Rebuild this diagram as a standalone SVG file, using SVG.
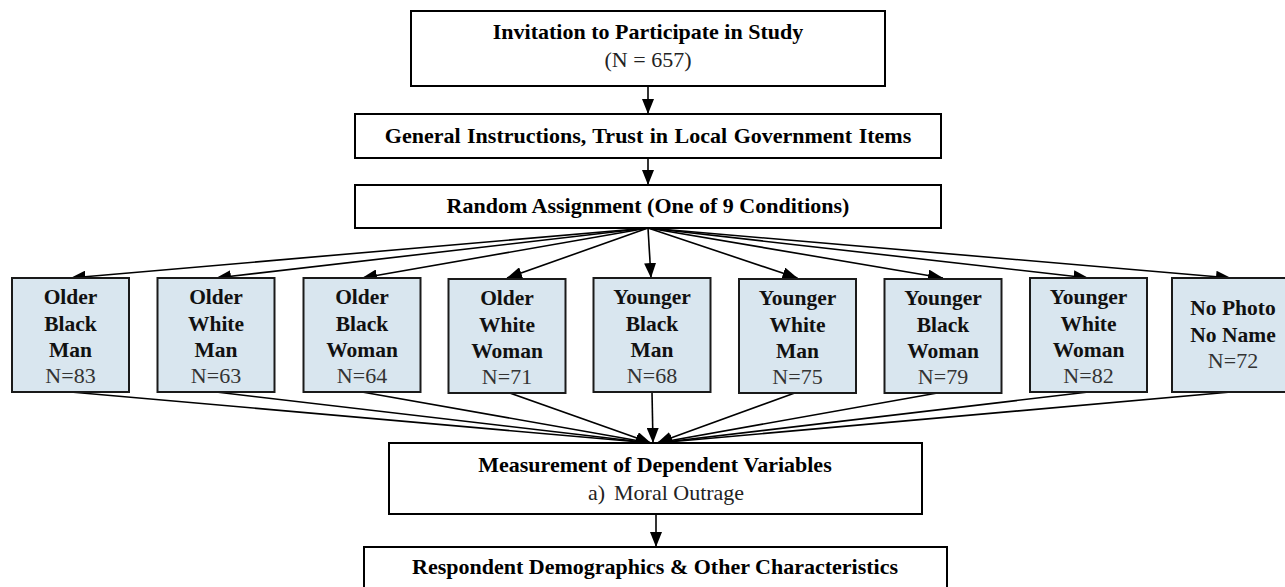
<svg xmlns="http://www.w3.org/2000/svg" width="1285" height="587" viewBox="0 0 1285 587">
<defs>
<marker id="ah" markerUnits="userSpaceOnUse" markerWidth="15" markerHeight="12" viewBox="0 0 15 12" refX="15" refY="6" orient="auto">
<path d="M0,0 L15,6 L0,12 z" fill="#000"/>
</marker>
<style>
.box{fill:#fff;stroke:#000;stroke-width:2}
.cond{fill:#d9e6ef;stroke:#1a1a1a;stroke-width:2}
.b{font-family:"Liberation Serif","Times New Roman",serif;font-weight:bold;font-size:22px;fill:#000;text-anchor:middle}
.r{font-family:"Liberation Serif","Times New Roman",serif;font-size:22px;fill:#222;text-anchor:middle}
.nb{font-family:"Liberation Serif","Times New Roman",serif;font-weight:bold;font-size:21.5px;fill:#111;text-anchor:middle}
.nr{font-family:"Liberation Serif","Times New Roman",serif;font-size:22px;fill:#333;text-anchor:middle}
.c{stroke:#000;stroke-width:1.6;fill:none;marker-end:url(#ah)}
</style>
</defs>
<rect width="1285" height="587" fill="#fff"/>

<g id="connectors">
<line class="c" x1="648" y1="86" x2="648" y2="114"/>
<line class="c" x1="648" y1="158" x2="648" y2="185"/>
<line class="c" x1="648" y1="228" x2="70.5" y2="278"/>
<line class="c" x1="648" y1="228" x2="216" y2="278"/>
<line class="c" x1="648" y1="228" x2="362" y2="278"/>
<line class="c" x1="648" y1="228" x2="507" y2="278"/>
<line class="c" x1="648" y1="228" x2="651" y2="278"/>
<line class="c" x1="648" y1="228" x2="797.5" y2="278"/>
<line class="c" x1="648" y1="228" x2="943" y2="278"/>
<line class="c" x1="648" y1="228" x2="1088.5" y2="278"/>
<line class="c" x1="648" y1="228" x2="1231" y2="278"/>
<line class="c" x1="70.5" y1="392" x2="651" y2="443"/>
<line class="c" x1="216" y1="392" x2="651" y2="443"/>
<line class="c" x1="362" y1="392" x2="651" y2="443"/>
<line class="c" x1="507" y1="392" x2="651" y2="443"/>
<line class="c" x1="652" y1="392" x2="653" y2="443"/>
<line class="c" x1="797.5" y1="392" x2="657" y2="443"/>
<line class="c" x1="943" y1="392" x2="657" y2="443"/>
<line class="c" x1="1088.5" y1="392" x2="657" y2="443"/>
<line class="c" x1="1231" y1="392" x2="657" y2="443"/>
<line class="c" x1="656" y1="514" x2="656" y2="547"/>
</g>

<g id="invitation">
<rect class="box" x="411" y="11" width="474" height="75"/>
<text class="b" x="648" y="39">Invitation to Participate in Study</text>
<text class="r" x="648" y="67">(N = 657)</text>
</g>

<g id="instructions">
<rect class="box" x="355" y="114" width="586" height="44"/>
<text class="b" x="648" y="143" word-spacing="1">General Instructions, Trust in Local Government Items</text>
</g>

<g id="random">
<rect class="box" x="355" y="185" width="586" height="43"/>
<text class="b" x="648" y="213">Random Assignment (One of 9 Conditions)</text>
</g>

<g id="c1">
<rect class="cond" x="12" y="278" width="117" height="114"/>
<text class="nb" x="70.5" y="304">Older</text>
<text class="nb" x="70.5" y="331">Black</text>
<text class="nb" x="70.5" y="357">Man</text>
<text class="nr" x="70.5" y="383">N=83</text>
</g>

<g id="c2">
<rect class="cond" x="157.5" y="278" width="117" height="114"/>
<text class="nb" x="216" y="304">Older</text>
<text class="nb" x="216" y="331">White</text>
<text class="nb" x="216" y="357">Man</text>
<text class="nr" x="216" y="383">N=63</text>
</g>

<g id="c3">
<rect class="cond" x="303.5" y="278" width="117" height="114"/>
<text class="nb" x="362" y="304">Older</text>
<text class="nb" x="362" y="331">Black</text>
<text class="nb" x="362" y="357">Woman</text>
<text class="nr" x="362" y="383">N=64</text>
</g>

<g id="c4">
<rect class="cond" x="448.5" y="279" width="117" height="114"/>
<text class="nb" x="507" y="305">Older</text>
<text class="nb" x="507" y="332">White</text>
<text class="nb" x="507" y="358">Woman</text>
<text class="nr" x="507" y="384">N=71</text>
</g>

<g id="c5">
<rect class="cond" x="593.5" y="278" width="117" height="114"/>
<text class="nb" x="652" y="304">Younger</text>
<text class="nb" x="652" y="331">Black</text>
<text class="nb" x="652" y="357">Man</text>
<text class="nr" x="652" y="383">N=68</text>
</g>

<g id="c6">
<rect class="cond" x="739" y="279" width="117" height="114"/>
<text class="nb" x="797.5" y="305">Younger</text>
<text class="nb" x="797.5" y="332">White</text>
<text class="nb" x="797.5" y="358">Man</text>
<text class="nr" x="797.5" y="384">N=75</text>
</g>

<g id="c7">
<rect class="cond" x="884.5" y="279" width="117" height="114"/>
<text class="nb" x="943" y="305">Younger</text>
<text class="nb" x="943" y="332">Black</text>
<text class="nb" x="943" y="358">Woman</text>
<text class="nr" x="943" y="384">N=79</text>
</g>

<g id="c8">
<rect class="cond" x="1030" y="278" width="117" height="114"/>
<text class="nb" x="1088.5" y="304">Younger</text>
<text class="nb" x="1088.5" y="331">White</text>
<text class="nb" x="1088.5" y="357">Woman</text>
<text class="nr" x="1088.5" y="383">N=82</text>
</g>

<g id="c9">
<rect class="cond" x="1172" y="278" width="119" height="114"/>
<text class="nb" x="1233" y="315">No Photo</text>
<text class="nb" x="1233" y="342">No Name</text>
<text class="nr" x="1233" y="368">N=72</text>
</g>

<g id="measurement">
<rect class="box" x="389" y="443" width="533" height="71"/>
<text class="b" x="655" y="472">Measurement of Dependent Variables</text>
<text class="r" x="588" y="500" style="text-anchor:start">a)</text>
<text class="r" x="614" y="500" style="text-anchor:start">Moral Outrage</text>
</g>

<g id="demographics">
<rect class="box" x="364" y="547" width="583" height="60"/>
<text class="b" x="655" y="574">Respondent Demographics &amp; Other Characteristics</text>
</g>
</svg>
